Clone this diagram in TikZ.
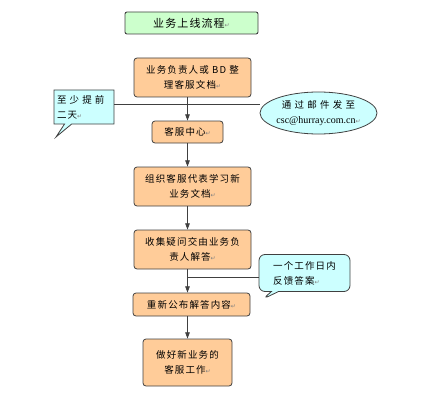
\documentclass[tikz,border=0pt]{standalone}
\usepackage{fontspec}
\setmainfont{Noto Sans CJK SC}
\newfontfamily\markfont{DejaVu Sans}
\newfontfamily\latinfont{Liberation Serif}
\usetikzlibrary{arrows.meta,positioning,shapes.geometric,shapes.callouts}
\definecolor{stepfill}{HTML}{FFCC99}
\definecolor{notefill}{HTML}{CCFFFF}
\definecolor{titlefill}{HTML}{CCFFCC}
\definecolor{frameline}{HTML}{404040}
\newcommand{\pmark}{{\markfont\color{gray}\fontsize{6}{6}\selectfont ↵}}

\begin{document}
\begin{tikzpicture}[x=1pt,y=-1pt,
font=\addfontfeatures{LetterSpace=12}\fontsize{9.5}{15}\selectfont,
stepbox/.style={draw=frameline,fill=stepfill,rounded corners=3pt,line width=.8pt,minimum width=#1,inner sep=2pt,align=center},
note/.style={rectangle callout,draw=frameline,fill=notefill,line width=.8pt,align=left,inner sep=3pt},
arrow/.style={-{Triangle[length=2.2mm,width=1.6mm]},line width=.8pt,draw=frameline},
link/.style={line width=.8pt,draw=frameline}]
\useasboundingbox (0,0) rectangle (433,401);
\node[draw=frameline,fill=titlefill,rounded corners=2pt,line width=.9pt,minimum width=133,minimum height=22,font=\addfontfeatures{LetterSpace=10}\fontsize{11}{13}\selectfont] (title) at (191.5,23) {业务上线流程\pmark};
\node[stepbox=117,minimum height=39] (draft) at (192.5,77.5) {业务负责人或 BD 整\\理客服文档\pmark};
\node[stepbox=71,minimum height=22] (center) at (187.5,132) {客服中心\pmark};
\node[stepbox=117,minimum height=39] (study) at (192.5,186.5) {组织客服代表学习新\\业务文档\pmark};
\node[stepbox=117,minimum height=39] (collect) at (192.5,249.5) {收集疑问交由业务负\\责人解答\pmark};
\node[stepbox=117,minimum height=23] (publish) at (191.5,304.5) {重新公布解答内容\pmark};
\node[stepbox=89,minimum height=47] (finish) at (187.5,362.5) {做好新业务的\\客服工作\pmark};
% notes beside the flow
\coordinate (tipA) at (56,137);
\coordinate (tipB) at (263,299);
\node[note,text width=54,minimum height=34,callout absolute pointer=(tipA)] (early) at (84,107) {至 少 提 前\\二天\pmark};
\node[ellipse,draw=frameline,fill=notefill,line width=.8pt,minimum width=117,minimum height=42,inner sep=-3pt,align=center] (mail) at (318.5,113) {通 过 邮 件 发 至\\{\latinfont\fontsize{10}{12}\selectfont csc@hurray.com.cn}\pmark};
\node[note,rounded corners=6pt,minimum width=91,minimum height=37,callout absolute pointer=(tipB)] (reply) at (304.5,273) {一个工作日内\\反馈答案\pmark};
% connectors
\draw[link] (early.east |- 0,104) -- (mail.west |- 0,104);
\draw[arrow] (center |- draft.south) -- (center.north);
\draw[arrow] (center.south) -- (center |- study.north);
\draw[arrow] (center |- study.south) -- (center |- collect.north);
\draw[arrow] (center |- collect.south) -- (center |- publish.north);
\draw[arrow] (center |- publish.south) -- (finish.north);
\coordinate (tap) at (center |- 0,277);
\draw[link] (tap) -- (tap -| reply.west);
\end{tikzpicture}
\end{document}
